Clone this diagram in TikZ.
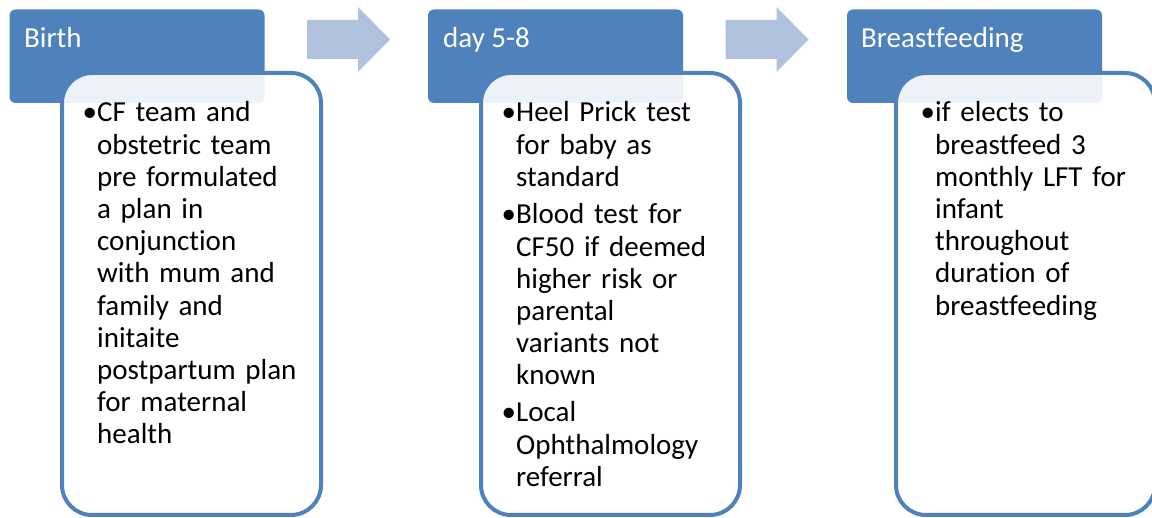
\documentclass[tikz,border=0pt]{standalone}
\usepackage{fontspec}
\setmainfont{Carlito}[Ligatures=NoCommon]
\definecolor{hdr}{HTML}{4F81BD}
\definecolor{arw}{HTML}{B0C1DD}
\begin{document}
\begin{tikzpicture}[x=1pt,y=-1pt,
 hdrbox/.style={draw=none,fill=hdr,rounded corners=6pt,minimum width=255pt,minimum height=93.5pt,anchor=north west,inner sep=0pt,outer sep=0pt},
 bodybox/.style={draw=hdr,line width=4pt,fill=white,fill opacity=0.9,rounded corners=30pt,minimum width=259pt,minimum height=442pt,anchor=north west,inner sep=0pt,outer sep=0pt},
 blockarrow/.style={fill=arw},
 hdrtext/.style={text=white,font=\fontsize{29}{32}\selectfont,anchor=base west,inner sep=0pt},
 bodytext/.style={font=\fontsize{29}{32.2}\selectfont,anchor=base west,inner sep=0pt,align=left,text width=240pt},
 bullet/.style={font=\fontsize{29}{32.2}\selectfont,anchor=base west,inner sep=0pt},
]
\useasboundingbox (0,0) rectangle (1152,518);
\clip (0,0) rectangle (1152,518);
% column 1
\node[hdrbox] (h1) at (9.5,9.5) {};
\node[hdrtext] (t1) at (24,48) {Birth};
\node[bodybox] (b1) at (62,73) {};
\node[bullet] (u1) at (82.5,122) {•};
\node[bodytext] (p1) at (97,122) {CF team and\\obstetric team\\pre formulated\\a plan in\\conjunction\\with mum and\\family and\\initaite\\postpartum plan\\for maternal\\health};
% arrow 1
\fill[blockarrow] (307,20) -- (358,20) -- (358,7) -- (390,39.5) -- (358,72) -- (358,59) -- (307,59) -- cycle;
% column 2
\node[hdrbox] (h2) at (428,9.5) {};
\node[hdrtext] (t2) at (443,48) {day 5-8};
\node[bodybox] (b2) at (481,73) {};
\node[bullet] (u2a) at (501.5,122) {•};
\node[bodytext] (p2a) at (516,122) {Heel Prick test\\for baby as\\standard};
\node[bullet] (u2b) at (501.5,224) {•};
\node[bodytext] (p2b) at (516,224) {Blood test for\\CF50 if deemed\\higher risk or\\parental\\variants not\\known};
\node[bullet] (u2c) at (501.5,422) {•};
\node[bodytext] (p2c) at (516,422) {Local\\Ophthalmology\\referral};
% arrow 2
\fill[blockarrow] (725.5,20) -- (776.5,20) -- (776.5,7) -- (808.5,39.5) -- (776.5,72) -- (776.5,59) -- (725.5,59) -- cycle;
% column 3
\node[hdrbox] (h3) at (847,9.5) {};
\node[hdrtext] (t3) at (861,48) {Breastfeeding};
\node[bodybox] (b3) at (896,73) {};
\node[bullet] (u3) at (920.5,122) {•};
\node[bodytext] (p3) at (935,122) {if elects to\\breastfeed 3\\monthly LFT for\\infant\\throughout\\duration of\\breastfeeding};
\end{tikzpicture}
\end{document}
